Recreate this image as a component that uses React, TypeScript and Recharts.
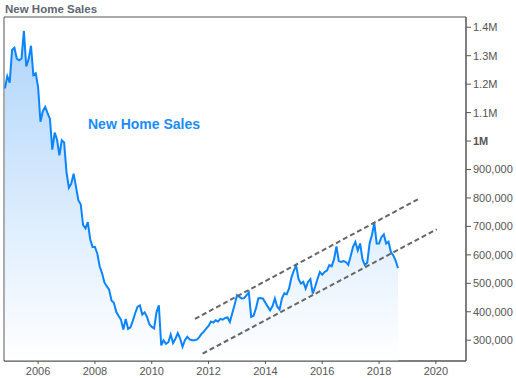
import React from "react";
import { ComposedChart, Area, XAxis, YAxis, ReferenceLine, ReferenceArea } from "recharts";

// New home sales, monthly (thousands, SAAR), starting Nov 2004
const startYear = 2004;
const startMonth = 11;
const salesK = [
  1185, 1228,
  1205, 1320, 1328, 1290, 1284, 1290, 1387, 1262, 1288, 1335, 1232, 1238,
  1190, 1068, 1105, 1120, 1098, 1078, 970, 1030, 1005, 950, 1003, 995,
  890, 836, 850, 885, 840, 792, 778, 705, 693, 715, 655, 628,
  628, 605, 560, 536, 503, 490, 478, 440, 432, 400, 385, 372,
  338, 375, 340, 345, 368, 395, 418, 422, 390, 398, 382, 356,
  347, 342, 398, 423, 282, 300, 287, 293, 320, 290, 305, 325,
  306, 277, 300, 312, 303, 300, 300, 302, 310, 322, 330, 341,
  350, 366, 362, 370, 366, 375, 372, 378, 380, 364, 395, 425,
  458, 452, 447, 448, 458, 468, 382, 386, 412, 447, 448, 446,
  432, 418, 405, 420, 447, 418, 408, 447, 465, 462, 482, 520,
  545, 562, 515, 499, 505, 482, 505, 515, 464, 488, 515, 540,
  530, 540, 545, 564, 560, 585, 630, 578, 575, 578, 575, 565,
  595, 628, 645, 616, 640, 585, 564, 572, 640, 670, 712, 640,
  640, 662, 672, 640, 646, 610, 598, 580, 553,
];

const xTicks = [2006, 2008, 2010, 2012, 2014, 2016, 2018, 2020];
const yTicks = [300000, 400000, 500000, 600000, 700000, 800000, 900000, 1000000, 1100000, 1200000, 1300000, 1400000];
const xDomain = [2004.8, 2021.06];
const yDomain = [227000, 1436000];

// Trend channel endpoints [year, value]
const upperChannel = [[2011.52, 375000], [2019.38, 796000]];
const lowerChannel = [[2011.79, 253000], [2020.03, 690000]];

const chartTitle = "New Home Sales";
const seriesLabel = "New Home Sales";

const data = salesK.map((v, i) => ({
  t: startYear + (startMonth - 1 + i) / 12,
  v: v * 1000,
}));

const FONT = "'Liberation Sans', Arial, sans-serif";

const fmtY = (v: number) =>
  v >= 1000000 ? `${+(v / 1000000).toFixed(1)}M` : v.toLocaleString("en-US");

const YTick = (props: any) => {
  const { x, y, payload } = props;
  return (
    <text
      x={x}
      y={y}
      dy="0.355em"
      textAnchor="start"
      fill="#555"
      fontSize={11}
      fontFamily={FONT}
      fontWeight={payload.value === 1000000 ? "bold" : "normal"}
    >
      {fmtY(payload.value)}
    </text>
  );
};

export default function App() {
  return (
    <div style={{ position: "absolute", left: 0, top: 0, width: 516, height: 378, background: "#fff" }}>
      <ComposedChart
        width={516}
        height={378}
        data={data}
        margin={{ top: 17, right: 0, bottom: 0, left: 4 }}
      >
        <defs>
          <linearGradient id="areaGrad" x1="0" y1="0" x2="0" y2="1">
            <stop offset="0%" stopColor="#b0d5fb" />
            <stop offset="100%" stopColor="#ffffff" />
          </linearGradient>
        </defs>
        <XAxis
          dataKey="t"
          type="number"
          domain={xDomain}
          ticks={xTicks}
          allowDataOverflow
          height={17}
          tickSize={3}
          tickMargin={3}
          stroke="#555"
          tick={{ fill: "#555", fontSize: 11, fontFamily: FONT }}
        />
        <YAxis
          orientation="right"
          type="number"
          domain={yDomain}
          ticks={yTicks}
          allowDataOverflow
          width={50}
          tickSize={5}
          tickMargin={2}
          stroke="#555"
          tick={<YTick />}
        />
        <ReferenceArea
          x1={xDomain[0]}
          x2={xDomain[1]}
          y1={yDomain[0]}
          y2={yDomain[1]}
          fill="none"
          stroke="#555"
          strokeWidth={1}
        />
        <Area
          type="linear"
          dataKey="v"
          stroke="#0a84ff"
          strokeWidth={2}
          fill="url(#areaGrad)"
          fillOpacity={1}
          isAnimationActive={false}
          dot={false}
          activeDot={false}
        />
        <ReferenceLine
          segment={[
            { x: upperChannel[0][0], y: upperChannel[0][1] },
            { x: upperChannel[1][0], y: upperChannel[1][1] },
          ]}
          stroke="#666"
          strokeWidth={2}
          strokeDasharray="5 3"
        />
        <ReferenceLine
          segment={[
            { x: lowerChannel[0][0], y: lowerChannel[0][1] },
            { x: lowerChannel[1][0], y: lowerChannel[1][1] },
          ]}
          stroke="#666"
          strokeWidth={2}
          strokeDasharray="5 3"
        />
      </ComposedChart>
      <svg
        width={516}
        height={378}
        style={{ position: "absolute", left: 0, top: 0, pointerEvents: "none" }}
      >
        <text x={5} y={12.5} fill="#5f6671" fontSize={11.5} fontWeight="bold" fontFamily={FONT}>
          {chartTitle}
        </text>
        <text x={88} y={128.5} fill="#1a8cff" fontSize={14} fontWeight="bold" fontFamily={FONT}>
          {seriesLabel}
        </text>
      </svg>
    </div>
  );
}
